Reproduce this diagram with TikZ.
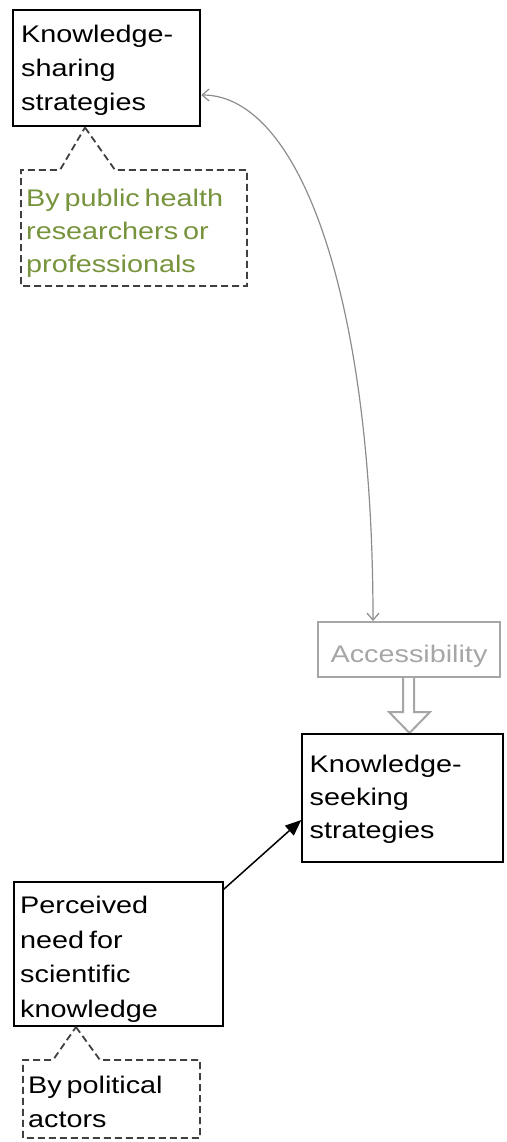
\documentclass[tikz,border=0pt]{standalone}
\usepackage{fontspec}
\setmainfont{Liberation Sans}[FakeStretch=1.2, WordSpace=0.6]
\usetikzlibrary{arrows.meta,calc}
\definecolor{olivetxt}{HTML}{77933C}
\definecolor{callgray}{HTML}{404040}
\definecolor{accgray}{HTML}{A6A6A6}
\definecolor{curvegray}{HTML}{8C8C8C}
\tikzset{
  box/.style={draw=black, line width=1.5pt, inner sep=0pt, rectangle},
  txt/.style={inner sep=0pt, anchor=north west, align=left},
  fsa/.style={font=\fontsize{24}{34}\selectfont},
  fsb/.style={font=\fontsize{24}{33}\selectfont},
  fsc/.style={font=\fontsize{24}{34.5}\selectfont},
  calloutline/.style={draw=callgray, line width=1.8pt, dash pattern=on 7pt off 4pt, line join=miter},
  blockarrow/.style={draw=accgray, line width=2pt, fill=white, line join=miter},
  link/.style={draw=curvegray, line width=1.2pt},
  solidarrow/.style={draw=black, line width=1.5pt, -{Triangle[length=16pt,width=13pt]}}
}
\begin{document}
\begin{tikzpicture}[x=1pt,y=-1pt]
\useasboundingbox (0,0) rectangle (506,1142);

% Knowledge-sharing strategies
\node[box, minimum width=187pt, minimum height=116pt] (share) at (106.5,68) {};
\node[txt, fsa] (sharetxt) at (21,18.2) {\strut Knowledge-\\sharing\\strategies};

% callout 1
\coordinate (tip1) at (85,127.5);
\draw[calloutline] (tip1) -- (115,170) -- (247,170) -- (247,286) -- (21,286) -- (21,170) -- (60,170) -- cycle;
\node[txt, fsb, text=olivetxt] (pub) at (26,183.2) {\strut By public health\\researchers or\\professionals};

% Accessibility
\node[draw=accgray, line width=2pt, minimum width=182pt, minimum height=55pt, inner sep=0pt,
      text height=40pt, text depth=15pt, text=accgray, fsa] (acc) at (409,649.5) {Accessibility};
\draw[blockarrow] ($(acc.south)+(-6,0)$) -- ($(acc.south)+(-6,34)$) -- ($(acc.south)+(-20,34)$)
  -- ($(acc.south)+(0.5,55)$) -- ($(acc.south)+(21,34)$) -- ($(acc.south)+(5,34)$) -- ($(acc.south)+(5,0)$);

% curved double arrow
\draw[link, {Straight Barb[length=7pt,width=12pt]}-{Straight Barb[length=7pt,width=12pt]}]
  ($(share.east)+(0.5,27)$) .. controls +(99,0) and +(0,-322) .. ($(acc.north)+(-36,0)$);

% Knowledge-seeking strategies
\node[box, minimum width=201pt, minimum height=128pt] (seek) at (402.5,798) {};
\node[txt, fsb] (seektxt) at (309.5,749.2) {\strut Knowledge-\\seeking\\strategies};

% Perceived need
\node[box, minimum width=209pt, minimum height=144pt] (need) at (118.5,954) {};
\node[txt, fsc] (needtxt) at (20,889.2) {\strut Perceived\\need for\\scientific\\knowledge};

\draw[solidarrow] ($(need.north east)+(0,8)$) -- ($(seek.west)+(0,22)$);

% callout 2
\coordinate (tip2) at (76,1027);
\draw[calloutline] (tip2) -- (100,1060) -- (200,1060) -- (200,1138) -- (23,1138) -- (23,1060) -- (53,1060) -- cycle;
\node[txt, fsa] (pol) at (28,1069.2) {\strut By political\\actors};
\end{tikzpicture}
\end{document}
